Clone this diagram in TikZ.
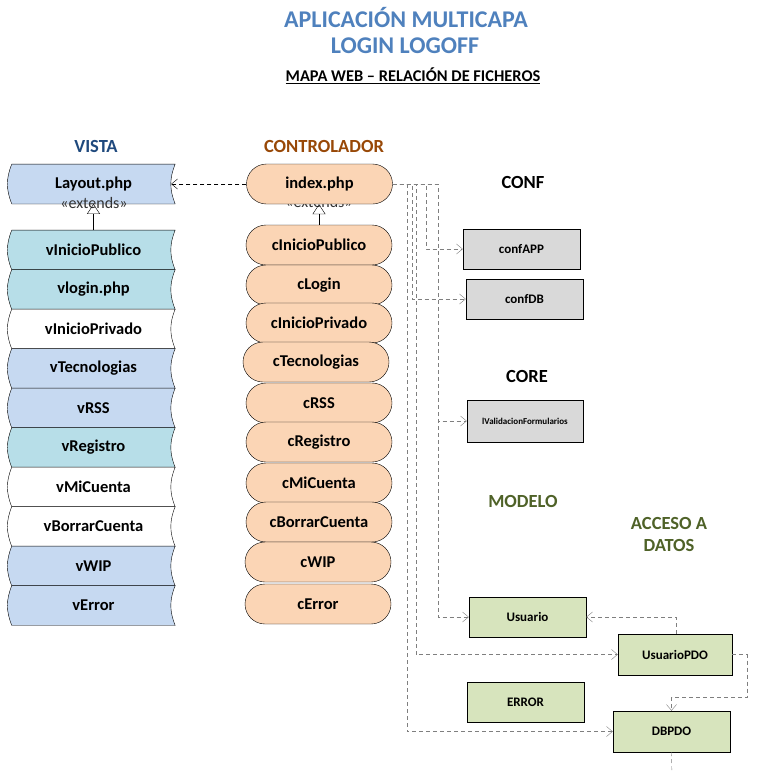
\documentclass[tikz,border=0pt]{standalone}
\usepackage{fontspec}
\setmainfont{Carlito}
\usepackage{tikz}
\usetikzlibrary{arrows.meta,shapes.misc,backgrounds}

\definecolor{vcian}{HTML}{B7DEE8}
\definecolor{vazul}{HTML}{C6D9F1}
\definecolor{naranja}{HTML}{FBD5B5}
\definecolor{gris}{HTML}{D9D9D9}
\definecolor{verde}{HTML}{D7E4BD}
\definecolor{titulo}{HTML}{4F81BD}
\definecolor{vistac}{HTML}{1F497D}
\definecolor{controlc}{HTML}{984807}
\definecolor{modeloc}{HTML}{4F6228}
\definecolor{lineas}{HTML}{7F7F7F}

\begin{document}
\begin{tikzpicture}[x=1pt,y=-1pt]

\tikzset{vista/.style = {minimum width=163pt, minimum height=39.5pt, inner sep=0pt,
  font=\fontsize{16.5}{19}\selectfont\bfseries,
  append after command={\pgfextra{\begin{pgfonlayer}{background}
    \draw[fill=#1] (\tikzlastnode.north west) -- (\tikzlastnode.north east)
      to[bend right=22] (\tikzlastnode.south east) -- (\tikzlastnode.south west)
      to[bend left=22] (\tikzlastnode.north west) -- cycle;
  \end{pgfonlayer}}}}}
\tikzset{ctrl/.style = {rounded rectangle, draw, fill=naranja, minimum width=146pt,
  minimum height=40pt, inner sep=0pt, font=\fontsize{16.5}{19}\selectfont\bfseries}}
\tikzset{caja/.style = {draw, fill=#1, minimum width=117pt, minimum height=40pt,
  inner sep=0pt, font=\fontsize{13}{15}\selectfont\bfseries}}
\tikzset{capa/.style = {font=\fontsize{18.5}{22}\selectfont\bfseries, align=center}}
\tikzset{ext/.style = {font=\fontsize{16}{18}\selectfont, text=black!80}}
\tikzset{dep/.style = {draw=lineas, dash pattern=on 4pt off 3pt,
  -{Straight Barb[length=6pt,width=10pt]}}}
\tikzset{hereda/.style = {-{Triangle[open,length=10pt,width=13pt]}}}

\useasboundingbox (0,0) rectangle (779,772);

% titles
\node[font=\fontsize{24}{27}\selectfont\bfseries, text=titulo] (titulo1) at (406,18) {APLICACIÓN MULTICAPA};
\node[font=\fontsize{24}{27}\selectfont\bfseries, text=titulo] (titulo2) at (405,46) {LOGIN LOGOFF};
\node[font=\fontsize{16.4}{18}\selectfont\bfseries] (subtitulo) at (413,76) {\underline{MAPA WEB – RELACIÓN DE FICHEROS}};

% layers
\node[capa, text=vistac] (tvista) at (96,146) {VISTA};
\node[capa, text=controlc] (tcontrol) at (324,146) {CONTROLADOR};
\node[capa] (tconf) at (523,182) {CONF};
\node[capa] (tcore) at (527,376) {CORE};
\node[capa, text=modeloc] (tmodelo) at (523,501) {MODELO};
\node[capa, text=modeloc] (tacceso) at (669,534) {ACCESO A\\DATOS};

% views
\node[vista=vazul] (Layout) at (93.5,184) {Layout.php};
\node[vista=vcian] (vInicioPublico) at (93.5,250) {vInicioPublico};
\node[vista=vcian] (vLogin) at (93.5,289.5) {vlogin.php};
\node[vista=white] (vInicioPrivado) at (93.5,329) {vInicioPrivado};
\node[vista=vazul] (vTecnologias) at (93.5,368.5) {vTecnologias};
\node[vista=vazul] (vRSS) at (93.5,408) {vRSS};
\node[vista=vcian] (vRegistro) at (93.5,447.5) {vRegistro};
\node[vista=white] (vMiCuenta) at (93.5,487) {vMiCuenta};
\node[vista=white] (vBorrarCuenta) at (93.5,526.5) {vBorrarCuenta};
\node[vista=vazul] (vWIP) at (93.5,566) {vWIP};
\node[vista=vazul] (vError) at (93.5,605.5) {vError};
\node[ext] (extVista) at (94,203) {«extends»};

% controllers
\node[ext] (extControl) at (319,202) {«extends»};
\node[ctrl] (index) at (319.5,184) {index.php};
\node[ctrl] (cInicioPublico) at (319,245) {cInicioPublico};
\node[ctrl] (cLogin) at (319,285) {cLogin};
\node[ctrl] (cInicioPrivado) at (319,323) {cInicioPrivado};
\node[ctrl] (cTecnologias) at (316,362) {cTecnologias};
\node[ctrl] (cRSS) at (319,403) {cRSS};
\node[ctrl] (cRegistro) at (319,442) {cRegistro};
\node[ctrl] (cMiCuenta) at (319,483) {cMiCuenta};
\node[ctrl] (cBorrarCuenta) at (319,522) {cBorrarCuenta};
\node[ctrl] (cWIP) at (318,562) {cWIP};
\node[ctrl] (cError) at (318,604) {cError};

% conf, core, modelo
\node[caja=gris] (confAPP) at (521.5,249) {confAPP};
\node[caja=gris] (confDB) at (524.5,299) {confDB};
\node[caja=gris, minimum width=116pt, minimum height=42pt, font=\fontsize{9}{11}\selectfont\bfseries] (IVal) at (525,421) {lValidacionFormularios};
\node[caja=verde] (Usuario) at (527.5,617) {Usuario};
\node[caja=verde, minimum width=114pt, minimum height=41pt] (UsuarioPDO) at (675,654.5) {UsuarioPDO};
\node[caja=verde] (ERROR) at (525.5,702) {ERROR};
\node[caja=verde, minimum height=41pt] (DBPDO) at (671.5,731.5) {DBPDO};
\coordinate (salida) at (672,780);

%edges
\draw[hereda] (vInicioPublico.north) -- (Layout.south);
\draw[hereda] (cInicioPublico.north) -- (cInicioPublico.north |- index.south);
\draw[dep, draw=black] (index.west) -- ([xshift=-4pt]Layout.east);
\draw[dep] (index.east) -- ++(33,0) |- (confAPP.west);
\draw[dep] (index.east) -- ++(19,0) |- (confDB.west);
\draw[dep] (index.east) -- ++(45,0) |- (IVal.west);
\draw[dep] (index.east) -- ++(45,0) |- (Usuario.west);
\draw[dep] (index.east) -- ++(23,0) |- (UsuarioPDO.west);
\draw[dep] (index.east) -- ++(14,0) |- (DBPDO.west);
\draw[dep] ([xshift=1pt]UsuarioPDO.north) |- (Usuario.east);
\draw[dep] (UsuarioPDO.east) -- ++(15,0) |- ([yshift=14pt]DBPDO.north) -- (DBPDO.north);
\draw[dep, -] (DBPDO.south) -- (salida);
\end{tikzpicture}
\end{document}
